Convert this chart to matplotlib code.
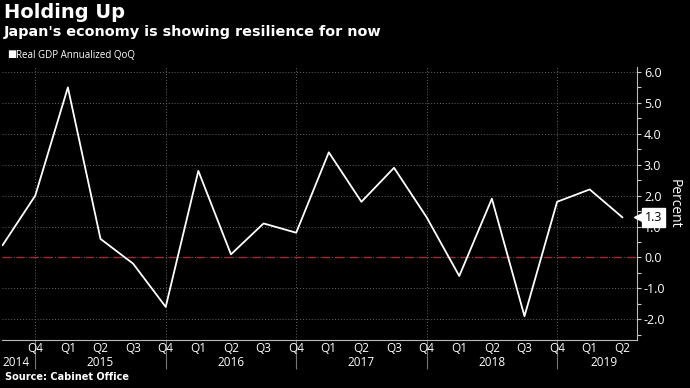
import matplotlib
matplotlib.use("Agg")
import matplotlib.pyplot as plt
from matplotlib.transforms import blended_transform_factory

# quarterly real GDP, annualized QoQ, Q3 2014 .. Q2 2019
quarters = ["Q3", "Q4", "Q1", "Q2", "Q3", "Q4", "Q1", "Q2", "Q3", "Q4",
            "Q1", "Q2", "Q3", "Q4", "Q1", "Q2", "Q3", "Q4", "Q1", "Q2"]
gdp = [0.4, 2.0, 5.5, 0.6, -0.2, -1.6, 2.8, 0.1, 1.1, 0.8,
       3.4, 1.8, 2.9, 1.3, -0.6, 1.9, -1.9, 1.8, 2.2, 1.3]
years = ["2014", "2015", "2016", "2017", "2018", "2019"]
year_pos = [0.4, 3, 7, 11, 15, 18.45]
yticks = [-2, -1, 0, 1, 2, 3, 4, 5, 6]

plt.rcParams["font.family"] = ["Open Sans", "DejaVu Sans"]

fig = plt.figure(figsize=(6.9, 3.88), dpi=100, facecolor="black")
ax = fig.add_axes([2 / 690, 1 - 340 / 388, 635 / 690, 273 / 388])
ax.set_facecolor("black")

x = list(range(len(gdp)))
ax.plot(x, gdp, color="white", lw=1.3, zorder=3)
ax.axhline(0, color="#a52a2f", lw=1, ls=(0, (6, 4)), zorder=2)

ax.set_xlim(-0.02, 19.45)
ax.set_ylim(-2.67, 6.16)

# y axis on the right
ax.yaxis.tick_right()
ax.set_yticks(yticks)
ax.set_yticklabels([f"{v:.1f}" for v in yticks])
ax.set_yticks([v + 0.5 for v in yticks[:-1]] + [-2.5], minor=True)
ax.tick_params(axis="y", which="both", colors="#cccccc", labelcolor="white",
               labelsize=9, length=3, width=0.8, pad=2)
ax.grid(axis="y", color="#666666", ls=(0, (1, 2)), lw=0.7)

# year separators at Q4 positions
q4 = [i for i, q in enumerate(quarters) if q == "Q4"]
ax.set_xticks(q4)
ax.set_xticklabels([])
ax.tick_params(axis="x", which="major", colors="#777777", length=21, width=0.8)
for p in q4:
    ax.axvline(p, color="#666666", ls=(0, (1, 2)), lw=0.7, zorder=1)

for s in ["top", "left"]:
    ax.spines[s].set_visible(False)
ax.spines["right"].set_color("#bbbbbb")
ax.spines["bottom"].set_color("#bbbbbb")

tr = blended_transform_factory(ax.transData, fig.transFigure)
for i, q in enumerate(quarters):
    if i == 0:
        continue
    ax.text(i, 1 - 348 / 388, q, transform=tr, color="white", fontsize=8.5,
            ha="center", va="center")
for yr, p in zip(years, year_pos):
    ax.text(p, 1 - 362 / 388, yr, transform=tr, color="white", fontsize=8.5,
            ha="center", va="center")

ax.set_ylabel("Percent", color="white", fontsize=10, rotation=270, labelpad=12)
ax.yaxis.set_label_position("right")

# last value tag
ax.plot([19.5], [1.3], marker="<", color="white", ms=7, clip_on=False, zorder=5)
ax.text(19.68, 1.3, "1.3", color="black", fontsize=9, va="center", ha="left",
        bbox=dict(boxstyle="square,pad=0.22", fc="white", ec="white"),
        clip_on=False, zorder=6)

fig.text(4 / 690, 1 - 12 / 388, "Holding Up", color="white", fontsize=14,
         fontweight="bold", va="center", family=["DejaVu Sans"])
fig.text(4 / 690, 1 - 32 / 388, "Japan's economy is showing resilience for now",
         color="white", fontsize=10.4, fontweight="bold", va="center",
         family=["DejaVu Sans"])
fig.text(7 / 690, 1 - 55 / 388, "\u25a0", color="white", fontsize=7, va="center")
fig.text(16 / 690, 1 - 55 / 388, "Real GDP Annualized QoQ", color="white",
         fontsize=7, va="center")
fig.text(5 / 690, 1 - 377 / 388, "Source: Cabinet Office", color="white",
         fontsize=7, fontweight="bold", va="center", family=["DejaVu Sans"])

fig.savefig("out.png", dpi=100, facecolor="black")
